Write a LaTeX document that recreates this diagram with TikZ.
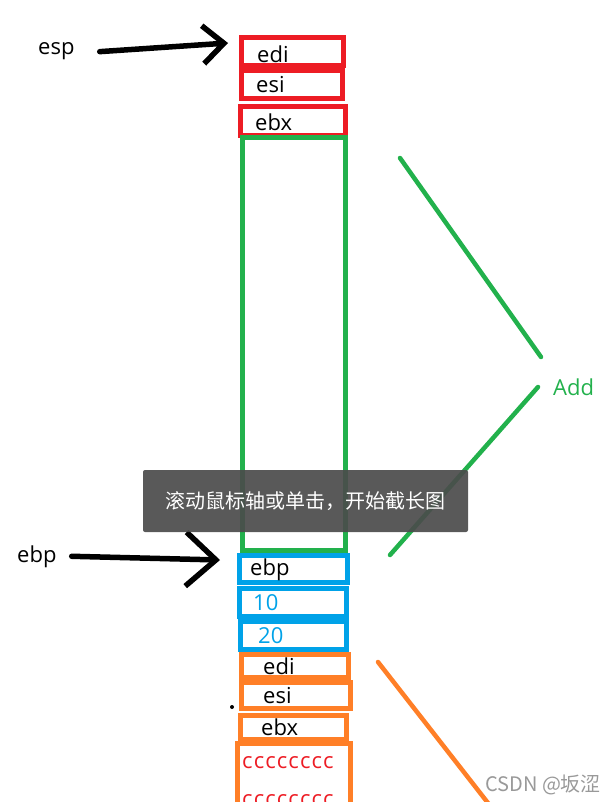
\documentclass[tikz,border=0pt]{standalone}
\usepackage{fontspec}
\setmainfont{Open Sans}
\newfontfamily\cjk{Noto Sans CJK SC}
\newfontfamily\wide[LetterSpace=5]{Open Sans}
\usetikzlibrary{positioning, arrows.meta}

\definecolor{paintred}{RGB}{237,28,36}
\definecolor{paintgreen}{RGB}{34,177,76}
\definecolor{paintblue}{RGB}{0,162,232}
\definecolor{paintorange}{RGB}{255,127,39}
\definecolor{tipgray}{RGB}{75,75,75}

\tikzset{
    slot/.style={draw=#1, line width=5pt, rectangle, inner sep=0pt},
    word/.style={anchor=base west, inner sep=0pt, font=\fontsize{22}{26}\selectfont},
    pointer/.style={line width=5.5pt, line cap=round, line join=round},
    stroke/.style={draw=#1, line width=4.5pt, line cap=round}
}

\begin{document}
\begin{tikzpicture}[x=1pt, y=-1pt]
    \useasboundingbox (0,0) rectangle (611,802);

    % pushed registers (red)
    \node[slot=paintred, minimum width=102pt, minimum height=28pt] (redA) at (292,52) {};
    \node[slot=paintred, minimum width=101pt, minimum height=28pt] (redB) at (291.5,85) {};
    \node[slot=paintred, minimum width=105pt, minimum height=29pt] (redC) at (292.5,121.5) {};
    \node[word] (ediA) at (257,63) {edi};
    \node[word] (esiA) at (256,93) {esi};
    \node[word] (ebxA) at (255,131) {ebx};

    % reserved area (green)
    \node[slot=paintgreen, minimum width=103pt, minimum height=412pt] (frame) at (293.5,344) {};

    % saved ebp and arguments (blue)
    \node[slot=paintblue, minimum width=108pt, minimum height=27pt] (blueA) at (293,568.5) {};
    \node[slot=paintblue, minimum width=107pt, minimum height=28pt] (blueB) at (292.5,602) {};
    \node[slot=paintblue, minimum width=106pt, minimum height=28pt] (blueC) at (293,635) {};
    \node[word] (ebpS) at (250,575) {ebp};
    \node[word, text=paintblue] (argA) at (253,610) {10};
    \node[word, text=paintblue] (argB) at (258,643) {20};

    % caller side (orange)
    \node[slot=paintorange, minimum width=107pt, minimum height=23pt] (orgA) at (294.5,665.5) {};
    \node[slot=paintorange, minimum width=109pt, minimum height=26pt] (orgB) at (295.5,695) {};
    \node[slot=paintorange, minimum width=106pt, minimum height=24pt] (orgC) at (293,727) {};
    \node[slot=paintorange, minimum width=113pt, minimum height=90pt] (orgD) at (293.5,788) {};
    \node[word] (ediB) at (263,674) {edi};
    \node[word] (esiB) at (263,703) {esi};
    \node[word] (ebxB) at (261,735) {ebx};
    \node[word, text=paintred, font=\wide\fontsize{22}{26}\selectfont] (fillA) at (242,768) {cccccccc};
    \node[word, text=paintred, font=\wide\fontsize{22}{26}\selectfont] (fillB) at (242,806) {cccccccc};

    % stack pointers
    \node[word] (esp) at (38,55) {esp};
    \coordinate (esptip) at (228,43);
    \draw[pointer, -{Straight Barb[length=21pt, width=38pt]}] ([xshift=25pt]esp.east) -- (esptip);

    \node[word] (ebp) at (17,562) {ebp};
    \coordinate (ebptip) at (220,560);
    \draw[pointer, -{Straight Barb[length=30pt, width=54pt]}] ([xshift=15pt]ebp.east) -- (ebptip);

    % Add bracket
    \node[word, text=paintgreen] (add) at (553,395) {Add};
    \coordinate (gtop) at (400,158);
    \coordinate (gmid1) at (541,357);
    \coordinate (gmid2) at (538,387);
    \coordinate (gbot) at (390,555);
    \draw[stroke=paintgreen] (gtop) -- (gmid1);
    \draw[stroke=paintgreen] (gmid2) -- (gbot);

    % orange bracket
    \coordinate (otop) at (378,662);
    \coordinate (obot) at (495,812);
    \draw[stroke=paintorange] (otop) -- (obot);

    \fill (232,707) circle (2pt);

    % screenshot tooltip
    \node[fill=tipgray, fill opacity=0.92, text opacity=1, text=white, rounded corners=2pt,
        minimum width=325pt, minimum height=62pt, inner sep=0pt,
        font=\cjk\fontsize{20}{24}\selectfont] (tip) at (305.5,501) {滚动鼠标轴或单击，开始截长图};

    \node[word, text=black!40, font=\cjk\fontsize{20}{24}\selectfont] (mark) at (485,791) {CSDN @坂涩};
\end{tikzpicture}
\end{document}
